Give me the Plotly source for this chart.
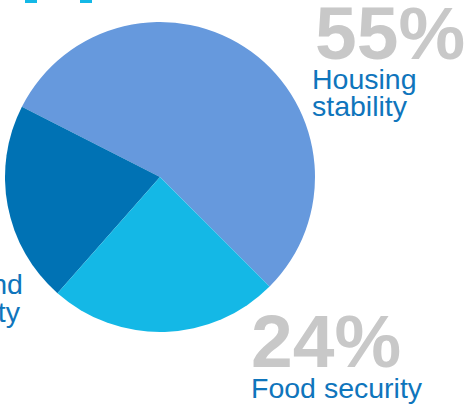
import plotly.graph_objects as go

# Share of clients by primary need
labels = ["Housing stability", "Health and safety", "Food security"]
values = [55, 21, 24]
colors = ["#6699DD", "#0072B4", "#14B8E6"]

W, H = 467, 404


def px(x):
    return x / W


def py(y):
    return 1 - y / H


# pie placement (pixels): centre and radius
cx, cy, r = 160, 177, 155

fig = go.Figure(
    go.Pie(
        labels=labels,
        values=values,
        sort=False,
        direction="counterclockwise",
        rotation=-63,
        marker=dict(colors=colors, line=dict(width=0)),
        textinfo="none",
        hoverinfo="label+percent",
        showlegend=False,
        domain=dict(x=[px(cx - r), px(cx + r)], y=[py(cy + r), py(cy - r)]),
    )
)

grey = "#C8C8C8"
blue = "#0F75BC"
big = dict(family="Liberation Sans, Arial, sans-serif", size=75, color=grey)
small = dict(family="Liberation Sans, Arial, sans-serif", size=28.5, color=blue)

ann = []


def add(text, x, y, font, xanchor="left"):
    ann.append(dict(text=text, x=px(x), y=py(y), xref="paper", yref="paper",
                    xanchor=xanchor, yanchor="middle", showarrow=False,
                    font=font, borderpad=0))


add("<b>55%</b>", 314, 33, big)
add("Housing", 311, 79, small)
add("stability", 311, 106, small)
add("<b>24%</b>", 250, 341, big)
add("Food security", 250, 388, small)
add("Health and", 24, 284, small, xanchor="right")
add("safety", 22, 312, small, xanchor="right")

fig.update_layout(
    width=W,
    height=H,
    margin=dict(l=0, r=0, t=0, b=0),
    paper_bgcolor="white",
    plot_bgcolor="white",
    annotations=ann,
    shapes=[
        dict(type="rect", xref="paper", yref="paper", x0=px(25), x1=px(37),
             y0=py(3), y1=py(-5), fillcolor="#14B8E6", line=dict(width=0)),
        dict(type="rect", xref="paper", yref="paper", x0=px(80), x1=px(92),
             y0=py(3), y1=py(-5), fillcolor="#14B8E6", line=dict(width=0)),
    ],
)

fig.write_html("out.html")
